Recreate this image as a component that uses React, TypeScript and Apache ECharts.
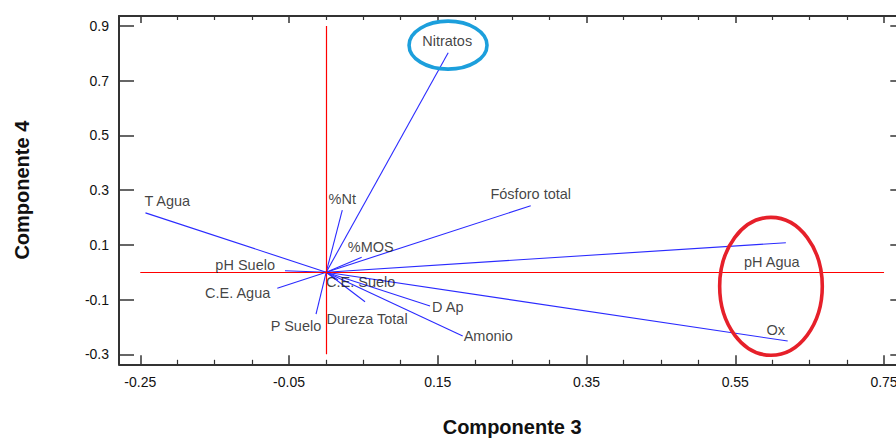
import React, { useEffect, useRef } from "react";
import * as echarts from "echarts";

// Variables of the biplot (Componente 3 vs Componente 4)
const varNames = [
  "Nitratos", "T Agua", "%Nt", "Fósforo total", "%MOS", "pH Suelo", "pH Agua",
  "C.E. Agua", "C.E. Suelo", "P Suelo", "Dureza Total", "D Ap", "Amonio", "Ox",
];
const comp3 = [0.164, -0.243, 0.0216, 0.275, 0.0477, -0.0554, 0.618, -0.0658, 0.0159, -0.0137, 0.0522, 0.1396, 0.1835, 0.6205];
const comp4 = [0.802, 0.217, 0.227, 0.243, 0.0545, 0.0055, 0.108, -0.0588, -0.0285, -0.153, -0.108, -0.1235, -0.233, -0.2515];

const xTicks = [-0.25, -0.05, 0.15, 0.35, 0.55, 0.75];
const xMinorTicks = [-0.2, -0.15, -0.1, 0, 0.05, 0.1, 0.2, 0.25, 0.3, 0.4, 0.45, 0.5, 0.6, 0.65, 0.7];
const yTicks = [-0.3, -0.1, 0.1, 0.3, 0.5, 0.7, 0.9];

// label placement: [align, dx, dy]
const labelPlacement: [string, number, number][] = [
  ["center", -1, -12],
  ["left", -1, -12],
  ["center", 0, -11],
  ["center", 0, -12],
  ["center", 9, -10],
  ["right", -10, -6],
  ["center", -14, 19],
  ["right", -7, 5],
  ["left", -12, 2],
  ["center", -20, 12],
  ["center", 2, 17],
  ["left", 2, 1],
  ["left", 1, 0],
  ["center", -12, -11],
];

// highlight ellipses in data units: [cx, cy, rx, ry, color]
const highlights: [number, number, number, number, string][] = [
  [0.1638, 0.83, 0.0524, 0.0877, "#1c9fdc"],
  [0.598, -0.0515, 0.069, 0.252, "#e6202a"],
];

const X_MIN = -0.2786, X_MAX = 0.7786;
const Y_MIN = -0.3365, Y_MAX = 0.9365;

const FONT = "'Liberation Sans', Arial, sans-serif";
const AXIS_COLOR = "#333333";
const TEXT_COLOR = "#111111";

export default function App() {
  const ref = useRef<HTMLDivElement>(null);
  useEffect(() => {
    if (!ref.current) return;
    const chart = echarts.init(ref.current, undefined, { renderer: "svg" });
    const baseX = {
      type: "value",
      min: X_MIN,
      max: X_MAX,
      splitLine: { show: false },
    };
    const baseY = {
      type: "value",
      min: Y_MIN,
      max: Y_MAX,
      splitLine: { show: false },
    };
    const option: any = {
      animation: false,
      backgroundColor: "#ffffff",
      textStyle: { fontFamily: FONT },
      grid: { left: 119, right: -9.3, top: 16, bottom: 74.7, containLabel: false, outerBoundsMode: "none" },
      xAxis: [
        {
          ...baseX,
          position: "bottom",
          name: "Componente 3",
          nameLocation: "middle",
          nameGap: 53,
          nameTextStyle: { fontSize: 20, fontWeight: "bold", color: TEXT_COLOR, fontFamily: FONT },
          axisLine: { show: true, onZero: false, lineStyle: { color: AXIS_COLOR, width: 2 } },
          axisTick: { show: true, inside: true, length: 9, customValues: xTicks, lineStyle: { color: AXIS_COLOR, width: 1.5 } },
          axisLabel: { show: true, customValues: xTicks, margin: 11, fontSize: 14, color: TEXT_COLOR, fontFamily: FONT, formatter: (v: number) => v.toFixed(2) },
        },
        {
          ...baseX,
          position: "bottom",
          axisLine: { show: false, onZero: false },
          axisTick: { show: true, inside: true, length: 4.5, customValues: xMinorTicks, lineStyle: { color: AXIS_COLOR, width: 1.2 } },
          axisLabel: { show: false },
        },
        {
          ...baseX,
          position: "top",
          axisLine: { show: true, onZero: false, lineStyle: { color: AXIS_COLOR, width: 2 } },
          axisTick: { show: true, inside: true, length: 7, customValues: xTicks, lineStyle: { color: AXIS_COLOR, width: 1.5 } },
          axisLabel: { show: false },
        },
        {
          ...baseX,
          position: "top",
          axisLine: { show: false, onZero: false },
          axisTick: { show: true, inside: true, length: 4, customValues: xMinorTicks, lineStyle: { color: AXIS_COLOR, width: 1.2 } },
          axisLabel: { show: false },
        },
      ],
      yAxis: [
        {
          ...baseY,
          position: "left",
          name: "Componente 4",
          nameLocation: "middle",
          nameGap: 87,
          nameTextStyle: { fontSize: 20, fontWeight: "bold", color: TEXT_COLOR, fontFamily: FONT },
          axisLine: { show: true, onZero: false, lineStyle: { color: AXIS_COLOR, width: 2 } },
          axisTick: { show: true, inside: true, length: 15, customValues: yTicks, lineStyle: { color: AXIS_COLOR, width: 1.5 } },
          axisLabel: { show: true, customValues: yTicks, margin: 10, fontSize: 14, color: TEXT_COLOR, fontFamily: FONT, formatter: (v: number) => v.toFixed(1) },
        },
        {
          ...baseY,
          position: "right",
          axisLine: { show: true, onZero: false, lineStyle: { color: AXIS_COLOR, width: 2 } },
          axisTick: { show: true, inside: true, length: 15, customValues: yTicks, lineStyle: { color: AXIS_COLOR, width: 1.5 } },
          axisLabel: { show: false },
        },
      ],
      series: [
        {
          type: "lines",
          coordinateSystem: "cartesian2d",
          xAxisIndex: 0,
          yAxisIndex: 0,
          z: 2,
          silent: true,
          lineStyle: { color: "#2b2bff", width: 1.1, opacity: 1 },
          data: varNames.map((_, i) => ({ coords: [[0, 0], [comp3[i], comp4[i]]] })),
        },
        {
          type: "lines",
          coordinateSystem: "cartesian2d",
          xAxisIndex: 0,
          yAxisIndex: 0,
          z: 3,
          silent: true,
          lineStyle: { color: "#ff0000", width: 1.2, opacity: 1 },
          data: [
            { coords: [[xTicks[0], 0], [xTicks[xTicks.length - 1], 0]] },
            { coords: [[0, yTicks[0]], [0, yTicks[yTicks.length - 1]]] },
          ],
        },
        {
          type: "scatter",
          xAxisIndex: 0,
          yAxisIndex: 0,
          z: 4,
          silent: true,
          symbolSize: 1,
          itemStyle: { color: "transparent" },
          data: varNames.map((name, i) => ({
            name,
            value: [comp3[i], comp4[i]],
            label: {
              show: true,
              position: "inside",
              formatter: name,
              align: labelPlacement[i][0],
              verticalAlign: "middle",
              offset: [labelPlacement[i][1], labelPlacement[i][2]],
              fontSize: 14.5,
              color: TEXT_COLOR,
              fontFamily: FONT,
            },
          })),
        },
      ],
    };
    chart.setOption(option);
    const graphics = highlights.map(([cx, cy, rx, ry, color]) => {
      const c = chart.convertToPixel({ xAxisIndex: 0, yAxisIndex: 0 }, [cx, cy]) as number[];
      const e = chart.convertToPixel({ xAxisIndex: 0, yAxisIndex: 0 }, [cx + rx, cy + ry]) as number[];
      return {
        type: "ellipse",
        z: 10,
        silent: true,
        shape: { cx: c[0], cy: c[1], rx: Math.abs(e[0] - c[0]), ry: Math.abs(c[1] - e[1]) },
        style: { fill: "none", stroke: color, lineWidth: 3.6 },
      };
    });
    chart.setOption({ graphic: graphics });
    return () => chart.dispose();
  }, []);
  return (
    <div
      ref={ref}
      style={{ position: "fixed", left: 0, top: 0, width: 896, height: 439, background: "#fff" }}
    />
  );
}
